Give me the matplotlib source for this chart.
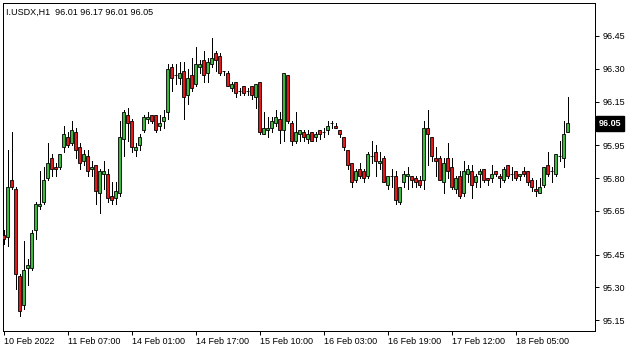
import numpy as np
import matplotlib
matplotlib.use('Agg')
from matplotlib import pyplot as plt

# I.USDX H1 candles (open, high, low, close)
opens = [95.54, 95.53, 95.79, 95.75, 95.35, 95.22, 95.39, 95.39, 95.56, 95.67,
         95.69, 95.80, 95.89, 95.85, 95.85, 95.94, 95.99, 95.96, 96.01, 95.94,
         95.88, 95.90, 95.84, 95.86, 95.73, 95.82, 95.82, 95.72, 95.71, 95.73,
         95.98, 96.09, 96.06, 95.93, 95.95, 96.02, 96.07, 96.09, 96.09, 96.04,
         96.06, 96.10, 96.31, 96.27, 96.26, 96.29, 96.18, 96.27, 96.23, 96.31,
         96.34, 96.28, 96.32, 96.37, 96.36, 96.29, 96.28, 96.21, 96.24, 96.20,
         96.22, 96.20, 96.22, 96.17, 96.24, 96.00, 96.02, 96.03, 96.05, 96.07,
         96.02, 96.27, 96.05, 95.97, 96.00, 96.01, 95.98, 96.01, 95.99, 96.02,
         96.01, 96.02, 96.05, 96.04, 96.02, 95.99, 95.93, 95.87, 95.79, 95.84,
         95.83, 95.81, 95.90, 95.92, 95.87, 95.89, 95.77, 95.81, 95.81, 95.69,
         95.78, 95.81, 95.81, 95.80, 95.79, 95.79, 96.03, 95.99, 95.89, 95.89,
         95.78, 95.89, 95.85, 95.75, 95.81, 95.73, 95.82, 95.83, 95.78, 95.82,
         95.84, 95.80, 95.80, 95.83, 95.81, 95.79, 95.86, 95.82, 95.83, 95.81,
         95.83, 95.83, 95.79, 95.75, 95.73, 95.77, 95.86, 95.83, 95.82, 95.90,
         95.89, 96.01]
highs = [95.56, 95.93, 96.01, 95.76, 95.36, 95.51, 95.43, 95.56, 95.69, 95.83,
         95.85, 95.96, 95.91, 95.87, 95.91, 96.04, 96.01, 96.06, 96.03, 95.96,
         95.93, 95.93, 95.88, 95.86, 95.84, 95.88, 95.84, 95.78, 95.78, 96.06,
         96.11, 96.12, 96.07, 95.96, 96.00, 96.09, 96.10, 96.09, 96.09, 96.09,
         96.11, 96.32, 96.32, 96.32, 96.33, 96.33, 96.30, 96.35, 96.40, 96.34,
         96.38, 96.35, 96.44, 96.38, 96.37, 96.29, 96.29, 96.24, 96.24, 96.21,
         96.22, 96.21, 96.22, 96.23, 96.24, 96.10, 96.08, 96.08, 96.11, 96.10,
         96.28, 96.27, 96.06, 96.10, 96.02, 96.02, 96.02, 96.01, 96.01, 96.02,
         96.03, 96.06, 96.06, 96.05, 96.02, 95.99, 95.93, 95.87, 95.84, 95.87,
         95.84, 95.92, 95.97, 95.95, 95.92, 95.90, 95.81, 95.84, 95.83, 95.76,
         95.83, 95.85, 95.81, 95.81, 95.81, 96.06, 96.11, 95.99, 95.94, 95.90,
         95.89, 95.96, 95.89, 95.81, 95.83, 95.88, 95.86, 95.86, 95.82, 95.84,
         95.84, 95.80, 95.86, 95.83, 95.82, 95.85, 95.86, 95.85, 95.83, 95.82,
         95.85, 95.83, 95.80, 95.79, 95.80, 95.85, 95.92, 95.85, 95.91, 95.97,
         96.06, 96.17]
lows = [95.50, 95.49, 95.75, 95.29, 95.17, 95.20, 95.31, 95.38, 95.52, 95.66,
        95.68, 95.79, 95.81, 95.81, 95.84, 95.92, 95.94, 95.95, 95.89, 95.84,
        95.86, 95.81, 95.81, 95.68, 95.64, 95.75, 95.69, 95.68, 95.68, 95.72,
        95.90, 95.97, 95.92, 95.90, 95.93, 96.01, 96.05, 96.05, 96.01, 96.02,
        96.03, 96.07, 96.20, 96.23, 96.23, 96.07, 96.14, 96.20, 96.22, 96.28,
        96.24, 96.24, 96.31, 96.29, 96.27, 96.27, 96.22, 96.20, 96.17, 96.18,
        96.18, 96.18, 96.16, 96.12, 96.00, 96.00, 95.99, 96.01, 96.04, 95.96,
        95.97, 96.05, 95.95, 95.96, 95.97, 95.97, 95.96, 95.97, 95.97, 95.98,
        95.99, 96.00, 96.03, 96.03, 95.99, 95.93, 95.84, 95.76, 95.78, 95.80,
        95.78, 95.80, 95.87, 95.81, 95.84, 95.78, 95.75, 95.76, 95.68, 95.68,
        95.76, 95.75, 95.76, 95.76, 95.76, 95.75, 95.86, 95.88, 95.81, 95.79,
        95.73, 95.80, 95.75, 95.73, 95.71, 95.72, 95.78, 95.71, 95.76, 95.76,
        95.78, 95.77, 95.78, 95.81, 95.76, 95.78, 95.80, 95.79, 95.79, 95.79,
        95.81, 95.77, 95.74, 95.72, 95.73, 95.76, 95.81, 95.78, 95.81, 95.88,
        95.85, 96.01]
closes = [95.52, 95.76, 95.76, 95.36, 95.19, 95.38, 95.40, 95.55, 95.68, 95.68,
          95.79, 95.87, 95.84, 95.84, 95.91, 96.00, 95.95, 96.02, 95.93, 95.87,
          95.91, 95.83, 95.85, 95.74, 95.83, 95.83, 95.71, 95.70, 95.74, 95.99,
          96.10, 96.05, 95.94, 95.94, 95.99, 96.08, 96.08, 96.06, 96.02, 96.05,
          96.08, 96.30, 96.26, 96.27, 96.28, 96.17, 96.26, 96.21, 96.32, 96.32,
          96.27, 96.33, 96.35, 96.34, 96.28, 96.29, 96.22, 96.23, 96.19, 96.20,
          96.19, 96.20, 96.18, 96.23, 96.01, 96.03, 96.03, 96.06, 96.08, 96.02,
          96.28, 96.06, 95.97, 96.01, 96.02, 95.99, 96.00, 95.97, 96.00, 96.00,
          96.01, 96.04, 96.05, 96.03, 96.00, 95.94, 95.86, 95.78, 95.83, 95.81,
          95.80, 95.91, 95.90, 95.88, 95.88, 95.78, 95.81, 95.81, 95.70, 95.76,
          95.82, 95.82, 95.79, 95.78, 95.77, 96.03, 96.00, 95.90, 95.88, 95.79,
          95.87, 95.83, 95.76, 95.80, 95.72, 95.83, 95.84, 95.77, 95.81, 95.83,
          95.79, 95.79, 95.82, 95.82, 95.80, 95.84, 95.81, 95.82, 95.80, 95.82,
          95.82, 95.78, 95.76, 95.74, 95.76, 95.85, 95.82, 95.83, 95.91, 95.90,
          96.00, 96.05]

time_labels = ['10 Feb 2022', '11 Feb 07:00', '14 Feb 01:00', '14 Feb 17:00',
               '15 Feb 10:00', '16 Feb 03:00', '16 Feb 19:00', '17 Feb 12:00',
               '18 Feb 05:00']
label_step = 16  # one time label every 16 bars
price_ticks = [96.45, 96.30, 96.15, 95.95, 95.80, 95.65, 95.45, 95.30, 95.15]
symbol = 'I.USDX,H1'

o = np.array(opens)
h = np.array(highs)
l = np.array(lows)
c = np.array(closes)
x = np.arange(len(o))

plt.rcParams['font.family'] = ['Liberation Sans', 'DejaVu Sans']
fs = 6.5

fig = plt.figure(figsize=(6.35, 3.52), dpi=100)
# plot area in pixels: left 2.5, right 594.5, top 2.7, bottom 331
ax = fig.add_axes([2.5 / 635, 21 / 352, 592 / 635, 328.3 / 352])

colors = np.where(c >= o, '#3fb83f', '#e31a1a')
ax.vlines(x, l, h, color='black', linewidth=0.6, antialiased=False, zorder=2)
ax.bar(x, c - o, bottom=o, width=0.72, color=colors, edgecolor='black',
       linewidth=0.6, zorder=3)

# bars 4 px apart, first one centred on pixel 3
ax.set_xlim(-0.25, 147.75)
ax.set_ylim(95.0999, 96.6024)

# price axis on the right
ax.yaxis.tick_right()
ax.set_yticks(price_ticks)
ax.set_yticklabels([f'{p:.2f}' for p in price_ticks], fontsize=fs)
ax.tick_params(axis='y', direction='out', length=3, width=0.72, pad=2.5)

# time axis
ax.set_xticks(x[::label_step][:len(time_labels)])
ax.set_xticklabels(time_labels, fontsize=fs, ha='left')
ax.tick_params(axis='x', direction='out', length=3, width=0.72, pad=1.5)

for s in ax.spines.values():
    s.set_linewidth(0.72)
    s.set_color('black')

# current price marker
last = closes[-1]
ax.annotate(f'{last:.2f}', xy=(1, last), xycoords=('axes fraction', 'data'),
            xytext=(3.2, 0), textcoords='offset points', ha='left', va='center',
            fontsize=fs, color='white', fontweight='bold',
            bbox=dict(boxstyle='square,pad=0.3', fc='black', ec='black'))

head = f'{symbol}  {opens[-1]:.2f} {highs[-1]:.2f} {lows[-1]:.2f} {closes[-1]:.2f}'
fig.text(6 / 635, 1 - 12 / 352, head, fontsize=fs, ha='left', va='center')

fig.savefig('out.png', dpi=100)
